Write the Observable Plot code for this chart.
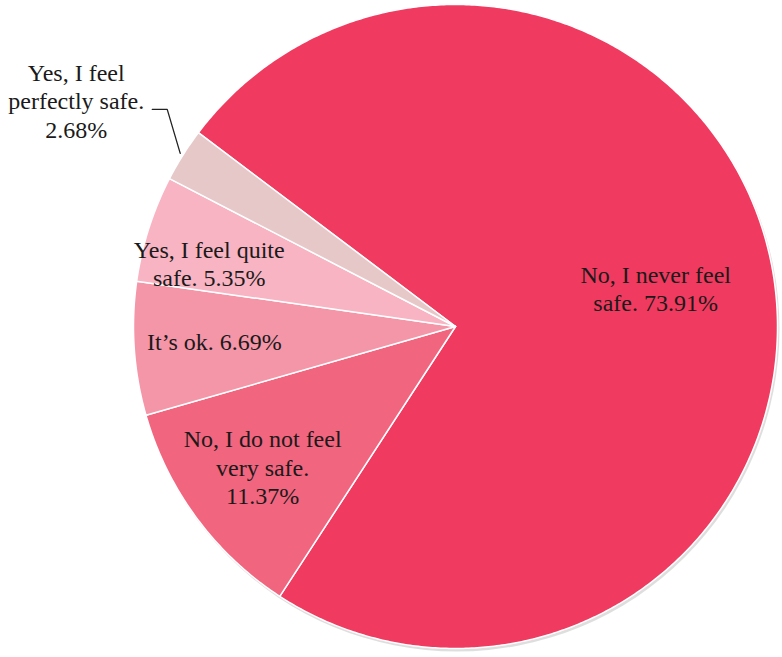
<!DOCTYPE html>
<html>
<head>
<meta charset="utf-8">
<script src="https://cdn.jsdelivr.net/npm/d3@7"></script>
<script src="https://cdn.jsdelivr.net/npm/@observablehq/plot@0.6"></script>
<style>
  html, body { margin: 0; padding: 0; background: #fff; }
  #chart svg { display: block; }
</style>
</head>
<body>
<div id="chart"></div>
<script>
// ---- data ----
const categories = [
  "No, I never feel safe.",
  "No, I do not feel very safe.",
  "It’s ok.",
  "Yes, I feel quite safe.",
  "Yes, I feel perfectly safe."
];
const values = [73.91, 11.37, 6.69, 5.35, 2.68];
const labelTexts = [
  "No, I never feel\nsafe. 73.91%",
  "No, I do not feel\nvery safe.\n11.37%",
  "It’s ok. 6.69%",
  "Yes, I feel quite\nsafe. 5.35%",
  "Yes, I feel\nperfectly safe.\n2.68%"
];
const colors = ["#F03A5F", "#F2657F", "#F595A8", "#F8B4C2", "#E7C8C8"];

// ---- layout ----
const W = 782, H = 657;
const CX = 455, CY = 326, R = 322;
const START = 307 * Math.PI / 180;
// inside labels: [radius fraction, angle offset in degrees] ; null = outside label
const labelPlacement = [[0.633, -0.9], [0.74, 0.5], [0.75, 0.6], [0.79, -3.2], null];
// outside label: leader elbow and label offsets relative to arc point
const outside = { rFrac: 1.01, elbow: [-13, -44], tail: [-15, 0], label: [-104, -53] };

const data = categories.map((c, i) => ({ cat: c, value: values[i], text: labelTexts[i] }));
const pie = d3.pie().sort(null).value(d => d.value).startAngle(START).endAngle(START + 2 * Math.PI);
const arcs = pie(data);

const polar = (ang, r) => ({ x: CX + r * Math.sin(ang), y: CY - r * Math.cos(ang) });

const polyPts = arcs.flatMap(a => {
  const n = Math.max(4, Math.ceil((a.endAngle - a.startAngle) / (Math.PI / 360)));
  const pts = [{ cat: a.data.cat, x: CX, y: CY }];
  for (let i = 0; i <= n; i++) {
    const ang = a.startAngle + (a.endAngle - a.startAngle) * i / n;
    pts.push({ cat: a.data.cat, ...polar(ang, R) });
  }
  pts.push({ cat: a.data.cat, x: CX, y: CY });
  return pts;
});

const labels = [];
const leader = [];
arcs.forEach((a, i) => {
  const mid = (a.startAngle + a.endAngle) / 2;
  const p = labelPlacement[i];
  if (p) {
    labels.push({ text: a.data.text, ...polar(mid + p[1] * Math.PI / 180, R * p[0]) });
  } else {
    const s = polar(mid, R * outside.rFrac);
    const e = { x: s.x + outside.elbow[0], y: s.y + outside.elbow[1] };
    const t = { x: e.x + outside.tail[0], y: e.y + outside.tail[1] };
    leader.push(s, e, t);
    labels.push({ text: a.data.text, x: s.x + outside.label[0], y: s.y + outside.label[1] });
  }
});

const chart = Plot.plot({
  width: W,
  height: H,
  margin: 0,
  style: { background: "#fff" },
  x: { domain: [0, W], range: [0, W], axis: null },
  y: { domain: [0, H], range: [0, H], axis: null },
  color: { domain: categories, range: colors },
  marks: [
    Plot.dot([{ x: CX + 1.5, y: CY + 2.5 }], { x: "x", y: "y", r: R + 0.5, fill: "#000", fillOpacity: 0.13, stroke: "none" }),
    Plot.line(polyPts, { x: "x", y: "y", z: "cat", fill: "cat", stroke: "white", strokeWidth: 1.5, strokeLinejoin: "round", curve: "linear" }),
    Plot.line(leader, { x: "x", y: "y", stroke: "#222", strokeWidth: 1.3, curve: "linear" }),
    Plot.text(labels, { x: "x", y: "y", text: "text", fontSize: 24, fontFamily: "Liberation Serif", fill: "#1a1a1a", lineHeight: 1.19 })
  ]
});
document.getElementById("chart").appendChild(chart);
</script>
</body>
</html>
